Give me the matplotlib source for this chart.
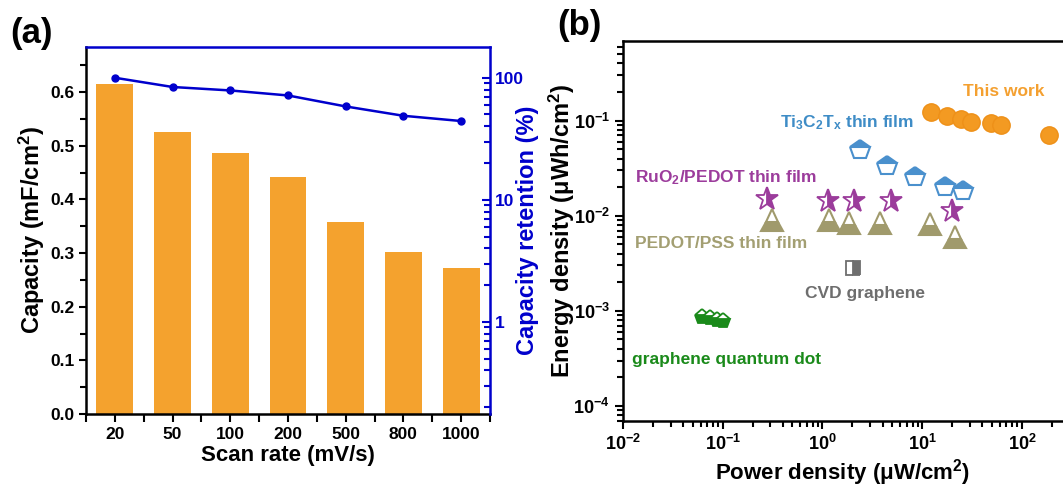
import matplotlib
matplotlib.use('Agg')
import matplotlib.pyplot as plt
from matplotlib.ticker import MultipleLocator, FixedLocator, LogLocator, NullFormatter, FormatStrFormatter

plt.rcParams['font.family'] = ['Liberation Sans', 'DejaVu Sans']
plt.rcParams['font.weight'] = 'bold'
plt.rcParams['axes.labelweight'] = 'bold'
plt.rcParams['mathtext.default'] = 'regular'

# (a) 电容随扫描速率变化
scan_rates = ['20', '50', '100', '200', '500', '800', '1000']
capacity = [0.615, 0.525, 0.487, 0.442, 0.358, 0.302, 0.273]
retention = [100, 84.0, 78.7, 71.6, 58.2, 48.8, 44.2]

# (b) Ragone 图数据
this_work_p = [12.2, 17.9, 24.4, 30.8, 49.1, 61.9, 185.7]
this_work_e = [0.124, 0.112, 0.104, 0.0976, 0.0938, 0.0893, 0.0706]
ti3c2_p = [2.40, 4.39, 8.40, 16.9, 25.8]
ti3c2_e = [0.0492, 0.0337, 0.0258, 0.0202, 0.0184]
ruo2_p = [0.279, 1.14, 2.08, 4.89, 20.0]
ruo2_e = [0.0150, 0.0143, 0.0143, 0.0143, 0.0113]
pedot_p = [0.313, 1.17, 1.86, 3.81, 11.9, 21.3]
pedot_e = [0.0090, 0.0090, 0.00845, 0.00845, 0.0082, 0.0060]
cvd_p = [2.02]
cvd_e = [0.00284]
gqd_p = [0.0615, 0.0746, 0.0871, 0.100]
gqd_e = [0.00087, 0.000836, 0.00080, 0.00079]

blue = '#0000CC'
W, H = 1063, 487
fig = plt.figure(figsize=(W / 100, H / 100), dpi=100)

# ---------- (a) ----------
ax1 = fig.add_axes([86 / W, 1 - 414 / H, 404 / W, 367 / H])
x = list(range(len(scan_rates)))
ax1.bar(x, capacity, width=0.64, color='#F4A22E')
ax1.set_xlim(-0.5, 6.5)
ax1.set_ylim(0, 0.684)
ax1.xaxis.set_major_locator(FixedLocator(x))
ax1.set_xticklabels(scan_rates)
ax1.xaxis.set_minor_locator(FixedLocator([i + 0.5 for i in range(-1, 7)]))
ax1.yaxis.set_major_locator(MultipleLocator(0.1))
ax1.yaxis.set_minor_locator(MultipleLocator(0.05))
ax1.yaxis.set_major_formatter(FormatStrFormatter('%.1f'))
ax1.tick_params(which='both', direction='out', width=1.5, labelsize=12.5)
ax1.tick_params(which='major', length=5)
ax1.tick_params(which='minor', length=4)
ax1.tick_params(axis='x', which='both', length=6)
for s in ['left', 'bottom']:
    ax1.spines[s].set_linewidth(1.8)
for s in ['top', 'right']:
    ax1.spines[s].set_visible(False)
ax1.set_xlabel('Scan rate (mV/s)', fontsize=16, labelpad=2)
ax1.set_ylabel('Capacity (mF/cm$^2$)', fontsize=17)
ax1.yaxis.set_label_coords(-0.097, 0.5)

ax1r = ax1.twinx()
ax1r.set_yscale('log')
ax1r.plot(x, retention, color=blue, lw=1.8, marker='o', ms=5)
ax1r.set_ylim(0.176, 178.6)
ax1r.spines['left'].set_visible(False)
ax1r.spines['bottom'].set_visible(False)
for s in ['top', 'right']:
    ax1r.spines[s].set_color(blue)
    ax1r.spines[s].set_linewidth(1.8)
ax1r.yaxis.set_minor_locator(LogLocator(base=10, subs=range(2, 10), numticks=10))
ax1r.yaxis.set_minor_formatter(NullFormatter())
ax1r.set_yticks([1, 10, 100])
ax1r.set_yticklabels(['1', '10', '100'])
ax1r.tick_params(which='both', direction='in', color=blue, labelcolor=blue, width=1.5, labelsize=12.5)
ax1r.tick_params(which='major', length=6)
ax1r.tick_params(which='minor', length=4)
ax1r.set_ylabel('Capacity retention (%)', fontsize=17, color=blue)
ax1r.yaxis.set_label_coords(1.064, 0.5)

fig.text(10 / W, 1 - 33 / H, '(a)', fontsize=25, fontweight='bold', va='center', ha='left')

# ---------- (b) ----------
ax2 = fig.add_axes([623 / W, 1 - 420.7 / H, 440 / W, 379.7 / H])
ax2.set_xscale('log')
ax2.set_yscale('log')

ax2.plot(this_work_p, this_work_e, ls='none', marker='o', ms=12.5,
         mfc='#F39A22', mec='#EE9018', mew=1)
ax2.plot(ti3c2_p, ti3c2_e, ls='none', marker='p', ms=14.5, fillstyle='top',
         mfc='#4A90CD', mfcalt='white', mec='#4A90CD', mew=1.5)
ax2.plot(ruo2_p, ruo2_e, ls='none', marker='*', ms=17, fillstyle='right',
         mfc='#9B3C9B', mfcalt='white', mec='#9B3C9B', mew=1.3)
ax2.plot(pedot_p, pedot_e, ls='none', marker='^', ms=15.5, fillstyle='bottom',
         mfc='#A09A6C', mfcalt='white', mec='#A09A6C', mew=1.5)
ax2.plot(cvd_p, cvd_e, ls='none', marker='s', ms=9.5, fillstyle='right',
         mfc='#6E6E6E', mfcalt='white', mec='#6E6E6E', mew=1.3)
ax2.plot(gqd_p, gqd_e, ls='none', marker='p', ms=11, fillstyle='bottom',
         mfc='#1A8A1A', mfcalt='white', mec='#1A8A1A', mew=1.3)

ax2.set_xlim(0.01, 258)
ax2.set_ylim(10 ** -4.155, 10 ** -0.162)
ax2.spines['right'].set_visible(False)
for s in ['left', 'bottom', 'top']:
    ax2.spines[s].set_linewidth(1.8)
ax2.xaxis.set_major_locator(LogLocator(base=10, numticks=10))
ax2.yaxis.set_major_locator(LogLocator(base=10, numticks=10))
ax2.xaxis.set_minor_locator(LogLocator(base=10, subs=range(2, 10), numticks=10))
ax2.yaxis.set_minor_locator(LogLocator(base=10, subs=range(2, 10), numticks=10))
ax2.xaxis.set_minor_formatter(NullFormatter())
ax2.yaxis.set_minor_formatter(NullFormatter())
ax2.tick_params(which='both', direction='out', width=1.5, labelsize=13, top=False, right=False)
ax2.tick_params(which='major', length=6)
ax2.tick_params(which='minor', length=4)
ax2.set_xlabel('Power density (\u03bcW/cm$^2$)', fontsize=16, labelpad=2)
ax2.set_ylabel('Energy density (\u03bcWh/cm$^2$)', fontsize=17)
ax2.yaxis.set_label_coords(-0.105, 0.5)

ax2.text(0.773, 0.866, 'This work', transform=ax2.transAxes, color='#F4A030',
         fontsize=12.5, va='center', ha='left')
ax2.text(0.357, 0.786, 'Ti$_3$C$_2$T$_x$ thin film', transform=ax2.transAxes,
         color='#3E8CC6', fontsize=12.5, va='center', ha='left')
ax2.text(0.027, 0.639, 'RuO$_2$/PEDOT thin film', transform=ax2.transAxes,
         color='#9C3C9C', fontsize=12.5, va='center', ha='left')
ax2.text(0.027, 0.468, 'PEDOT/PSS thin film', transform=ax2.transAxes,
         color='#A39F72', fontsize=12.5, va='center', ha='left')
ax2.text(0.414, 0.336, 'CVD graphene', transform=ax2.transAxes,
         color='#6E6E6E', fontsize=12.5, va='center', ha='left')
ax2.text(0.020, 0.162, 'graphene quantum dot', transform=ax2.transAxes,
         color='#1A8A1A', fontsize=12.5, va='center', ha='left')

fig.text(557 / W, 1 - 25 / H, '(b)', fontsize=25, fontweight='bold', va='center', ha='left')

fig.savefig('out.png', dpi=100)
